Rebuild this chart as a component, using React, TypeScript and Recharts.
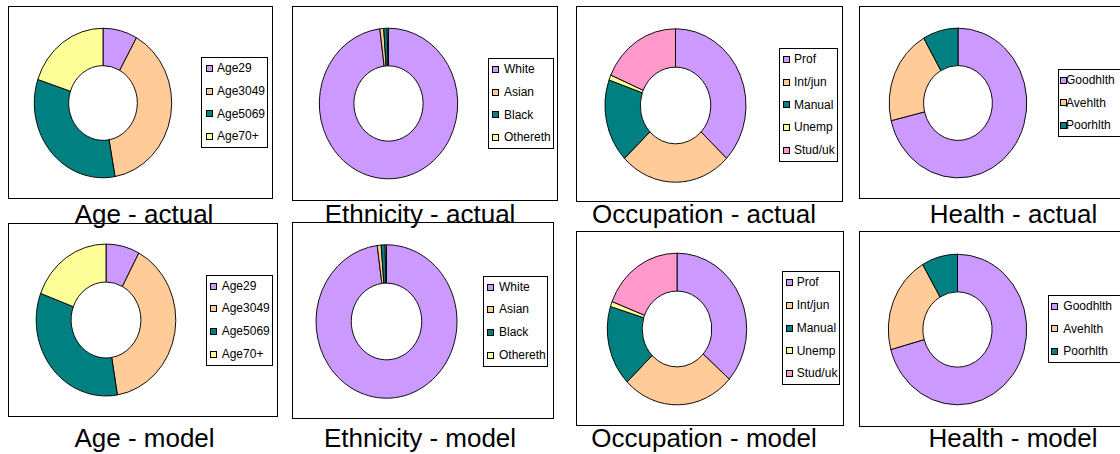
import React from 'react';
import { PieChart, Pie, Cell } from 'recharts';

// Excel-style palette used by every pie
const COLORS = ['#CC99FF', '#FFCC99', '#008080', '#FFFF99', '#FF99CC'];

const ageNames = ['Age29', 'Age3049', 'Age5069', 'Age70+'];
const ageActual = [8.1, 39.1, 32.9, 19.9];
const ageModel = [7.8, 39.6, 33.3, 19.3];

const ethnicityNames = ['White', 'Asian', 'Black', 'Othereth'];
const ethnicityActual = [98.0, 0.9, 0.8, 0.3];
const ethnicityModel = [97.9, 0.9, 0.9, 0.3];

const occupationNames = ['Prof', 'Int/jun', 'Manual', 'Unemp', 'Stud/uk'];
const occupationActual = [37.1, 25.8, 17.5, 1.1, 18.5];
const occupationModel = [36.5, 26.2, 17.1, 1.1, 19.1];

const healthNames = ['Goodhlth', 'Avehlth', 'Poorhlth'];
const healthActual = [71.2, 20.5, 8.3];
const healthModel = [70.7, 20.9, 8.4];

const FONT = '"Liberation Sans", Arial, sans-serif';
const STRETCH_Y = 1.088; // the original pies are slightly taller than wide

interface PanelProps {
    title: string;
    names: string[];
    values: number[];
    box: { x: number; y: number; w: number; h: number };
    pie: { cx: number; cy: number; r: number };
    legend: { x: number; y: number; w: number; h: number; sx: number; s: number; tx: number };
    caption: { cx: number; base: number };
}

const panels: PanelProps[] = [
    {
        title: 'Age - actual', names: ageNames, values: ageActual,
        box: { x: 8, y: 6, w: 265, h: 193 },
        pie: { cx: 103, cy: 103, r: 68.7 },
        legend: { x: 201, y: 57, w: 67, h: 91, sx: 4.5, s: 7, tx: 16 },
        caption: { cx: 144, base: 222.5 },
    },
    {
        title: 'Ethnicity - actual', names: ethnicityNames, values: ethnicityActual,
        box: { x: 292, y: 6, w: 266, h: 195 },
        pie: { cx: 388.5, cy: 103.8, r: 69.2 },
        legend: { x: 488, y: 58, w: 66, h: 91, sx: 4, s: 7, tx: 16 },
        caption: { cx: 420, base: 222.5 },
    },
    {
        title: 'Occupation - actual', names: occupationNames, values: occupationActual,
        box: { x: 576, y: 6, w: 267, h: 196 },
        pie: { cx: 675.8, cy: 105, r: 70.5 },
        legend: { x: 779, y: 48, w: 59, h: 114, sx: 4, s: 7, tx: 15 },
        caption: { cx: 704, base: 222.5 },
    },
    {
        title: 'Health - actual', names: healthNames, values: healthActual,
        box: { x: 859, y: 6, w: 280, h: 193 },
        pie: { cx: 957.8, cy: 103.3, r: 68.8 },
        legend: { x: 1058, y: 69, w: 80, h: 68, sx: 1.5, s: 7, tx: 8 },
        caption: { cx: 1013.5, base: 222.5 },
    },
    {
        title: 'Age - model', names: ageNames, values: ageModel,
        box: { x: 8, y: 223, w: 270, h: 194 },
        pie: { cx: 105.8, cy: 320.2, r: 69.8 },
        legend: { x: 205.7, y: 274.7, w: 67.6, h: 91, sx: 4.5, s: 7, tx: 16 },
        caption: { cx: 144.5, base: 446.7 },
    },
    {
        title: 'Ethnicity - model', names: ethnicityNames, values: ethnicityModel,
        box: { x: 292, y: 222, w: 262, h: 197 },
        pie: { cx: 386.7, cy: 321, r: 70.5 },
        legend: { x: 483.3, y: 275.7, w: 65, h: 91, sx: 4, s: 7, tx: 15.7 },
        caption: { cx: 420, base: 446.7 },
    },
    {
        title: 'Occupation - model', names: occupationNames, values: occupationModel,
        box: { x: 576, y: 231, w: 268, h: 195 },
        pie: { cx: 677, cy: 329, r: 69.7 },
        legend: { x: 781.7, y: 271.3, w: 58.3, h: 113.7, sx: 4, s: 7, tx: 15 },
        caption: { cx: 704, base: 446.7 },
    },
    {
        title: 'Health - model', names: healthNames, values: healthModel,
        box: { x: 859, y: 231, w: 280, h: 196 },
        pie: { cx: 957.5, cy: 329.8, r: 69.2 },
        legend: { x: 1048.3, y: 295, w: 80, h: 67.5, sx: 3, s: 7, tx: 15 },
        caption: { cx: 1013, base: 446.7 },
    },
];

const Donut: React.FC<PanelProps> = ({ names, values, pie }) => {
    const data = names.map((name, i) => ({ name, value: values[i] }));
    const size = Math.ceil(pie.r * 2 + 6);
    return (
        <div
            style={{
                position: 'absolute',
                left: pie.cx - size / 2,
                top: pie.cy - size / 2,
                width: size,
                height: size,
                transform: `scaleY(${STRETCH_Y})`,
                transformOrigin: '50% 50%',
            }}
        >
            <PieChart width={size} height={size} margin={{ top: 0, right: 0, bottom: 0, left: 0 }}>
                <Pie
                    data={data}
                    dataKey="value"
                    cx="50%"
                    cy="50%"
                    outerRadius={pie.r}
                    innerRadius={pie.r / 2}
                    startAngle={90}
                    endAngle={-270}
                    stroke="#000"
                    strokeWidth={0.9}
                    isAnimationActive={false}
                >
                    {data.map((entry, index) => (
                        <Cell key={`cell-${index}`} fill={COLORS[index % COLORS.length]} />
                    ))}
                </Pie>
            </PieChart>
        </div>
    );
};

const LegendBox: React.FC<PanelProps> = ({ names, legend }) => {
    const rowH = legend.h / names.length;
    return (
        <div
            style={{
                position: 'absolute',
                left: legend.x,
                top: legend.y,
                width: legend.w,
                height: legend.h,
                boxSizing: 'border-box',
                border: '1px solid #000',
                background: '#fff',
            }}
        >
            {names.map((name, i) => (
                <div key={name} style={{ position: 'absolute', left: 0, right: 0, top: i * rowH - 1, height: rowH }}>
                    <div
                        style={{
                            position: 'absolute',
                            left: legend.sx - 1,
                            top: (rowH - legend.s) / 2,
                            width: legend.s,
                            height: legend.s,
                            boxSizing: 'border-box',
                            border: '1px solid #000',
                            background: COLORS[i % COLORS.length],
                        }}
                    />
                    <span
                        style={{
                            position: 'absolute',
                            left: legend.tx - 1,
                            top: 0,
                            lineHeight: `${rowH}px`,
                            fontSize: 12,
                            whiteSpace: 'nowrap',
                            color: '#000',
                        }}
                    >
                        {name}
                    </span>
                </div>
            ))}
        </div>
    );
};

const Panel: React.FC<PanelProps> = (props) => {
    const { box } = props;
    return (
        <div
            style={{
                position: 'absolute',
                left: box.x,
                top: box.y,
                width: box.w,
                height: box.h,
                boxSizing: 'border-box',
                border: '1px solid #000',
                background: '#fff',
            }}
        />
    );
};

const Caption: React.FC<PanelProps> = ({ title, caption }) => (
    <div
        style={{
            position: 'absolute',
            left: caption.cx - 150,
            width: 300,
            top: caption.base - 22,
            height: 26,
            lineHeight: '26px',
            fontSize: 26,
            textAlign: 'center',
            color: '#000',
            whiteSpace: 'nowrap',
        }}
    >
        {title}
    </div>
);

export default function App() {
    return (
        <div
            style={{
                position: 'absolute',
                left: 0,
                top: 0,
                width: 1120,
                height: 454,
                overflow: 'hidden',
                background: '#fff',
                fontFamily: FONT,
            }}
        >
            {panels.map((p) => (
                <Panel key={`box-${p.title}`} {...p} />
            ))}
            {panels.map((p) => (
                <Donut key={`pie-${p.title}`} {...p} />
            ))}
            {panels.map((p) => (
                <LegendBox key={`legend-${p.title}`} {...p} />
            ))}
            {panels.map((p) => (
                <Caption key={`caption-${p.title}`} {...p} />
            ))}
        </div>
    );
}
